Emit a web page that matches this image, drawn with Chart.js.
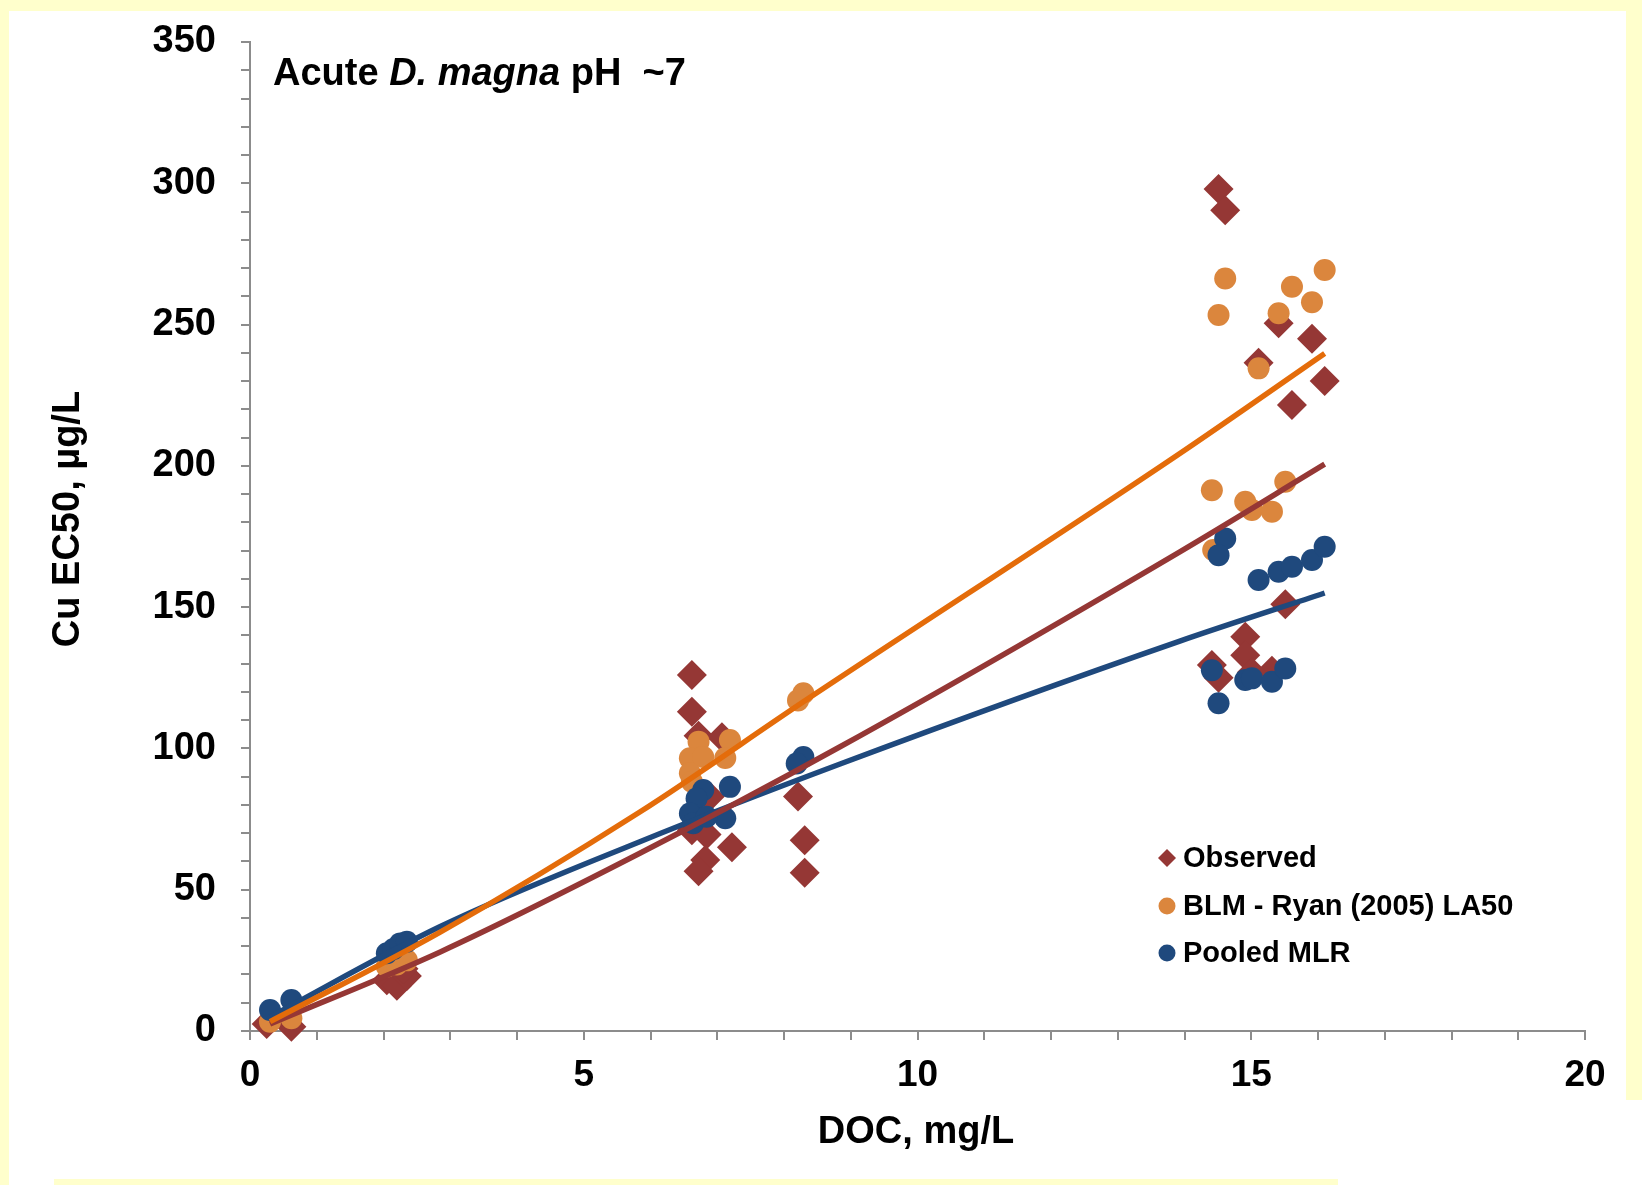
<!DOCTYPE html>
<html>
<head>
<meta charset="utf-8">
<script src="https://cdn.jsdelivr.net/npm/chart.js@4.4.0/dist/chart.umd.min.js"></script>
<style>
  html, body { margin: 0; padding: 0; background: #fff; }
  #wrap { width: 1642px; height: 1185px; position: relative; }
</style>
</head>
<body>
<div id="wrap"><canvas id="chart" width="1642" height="1185"></canvas></div>
<script>
// Observed (diamonds)
const obsX = [0.25, 0.62, 2.05, 2.2, 2.35, 2.3, 6.62, 6.62, 6.72, 7.07, 6.89, 6.62, 6.84, 7.22, 6.82, 6.72,
  8.21, 8.31, 8.31, 14.51, 14.61, 15.41, 15.91, 15.11, 16.1, 15.61, 15.51, 14.91, 14.91, 14.41, 14.51, 15.31, 15.01];
const obsY = [2.5, 1.5, 18, 16, 19.5, 22, 126, 113, 104.5, 104, 83, 71, 69.5, 65, 60.5, 56.5,
  83, 67.5, 56, 298, 290.5, 250.5, 245, 236.5, 230, 221.5, 151, 139.5, 133, 129.5, 125, 127.5, 127];

// BLM - Ryan (2005) LA50
const blmX = [0.3, 0.62, 2.05, 2.2, 2.35, 6.72, 7.19, 6.59, 6.79, 7.12, 6.59, 6.62, 8.29, 8.21,
  14.61, 14.51, 16.1, 15.61, 15.91, 15.41, 15.11, 14.41, 14.91, 15.01, 15.31, 15.51, 14.43];
const blmY = [3.3, 4.5, 22.8, 23.5, 25, 102.4, 103, 96.5, 97, 96.6, 91.2, 88.2, 119.5, 117,
  266.3, 253.4, 269.3, 263.4, 257.9, 254, 234.5, 191.4, 187.3, 184.4, 183.8, 194.4, 170.2];

// Pooled MLR
const mlrX = [0.3, 0.62, 2.05, 2.15, 2.25, 2.35, 6.79, 7.19, 6.69, 6.59, 6.64, 7.12, 6.84, 8.29, 8.19,
  14.61, 14.51, 15.11, 15.41, 15.61, 15.91, 16.1, 14.41, 14.51, 14.91, 15.01, 15.31, 15.51];
const mlrY = [7.4, 11, 27.5, 29, 31, 31.6, 85.3, 86.4, 82.3, 77, 73.5, 75.3, 75.8, 97, 94.7,
  174.3, 168.4, 159.6, 162.5, 164.3, 166.7, 171.4, 127.7, 116, 124.2, 124.8, 123.6, 128.3];

// trend lines
const obsFitX = [0.3, 2.85, 5.84, 8.84, 13.93, 16.1];
const obsFitY = [2.5, 28, 62.9, 100.6, 169.6, 200.6];
const blmFitX = [0.3, 2.85, 5.84, 8.29, 13.93, 16.1];
const blmFitY = [3.3, 35, 77.5, 116.5, 204.4, 239.8];
const mlrFitX = [0.3, 2.85, 5.84, 8.84, 13.93, 16.1];
const mlrFitY = [5, 37, 67, 94.5, 138, 155];

const legendLabels = ["Observed", "BLM - Ryan (2005) LA50", "Pooled MLR"];

const RED = "#953735";
const ORANGE = "#DB863D";
const BLUE = "#1F497D";
const FONT = "'Liberation Sans', Arial, sans-serif";
const AXIS = "#8c8c8c";

const pts = (xs, ys) => xs.map((x, i) => ({ x: x, y: ys[i] }));

function fitLine(xs, ys, color) {
  return {
    type: "line",
    data: pts(xs, ys),
    borderColor: color,
    borderWidth: 5.5,
    pointRadius: 0,
    showLine: true,
    fill: false,
    cubicInterpolationMode: "monotone",
    clip: false,
  };
}

const decor = {
  id: "decor",
  beforeDraw(chart) {
    const ctx = chart.ctx;
    ctx.save();
    ctx.fillStyle = "#FFFFCC";
    ctx.fillRect(0, 0, 1642, 11);
    ctx.fillRect(0, 0, 9, 1185);
    ctx.fillRect(1626, 0, 16, 1100);
    ctx.fillRect(54, 1179, 1284, 6);
    ctx.restore();
  },
  afterDraw(chart) {
    const ctx = chart.ctx;
    ctx.save();
    ctx.fillStyle = "#000";
    ctx.textBaseline = "alphabetic";

    // chart title
    let x = 273;
    const y = 85;
    const parts = [["Acute ", "bold"], ["D. magna", "italic bold"], [" pH  ~7", "bold"]];
    parts.forEach(([t, w]) => {
      ctx.font = w + " 38px " + FONT;
      ctx.fillText(t, x, y);
      x += ctx.measureText(t).width;
    });

    // axis titles
    ctx.font = "bold 38px " + FONT;
    ctx.textAlign = "center";
    ctx.fillText("DOC, mg/L", 916, 1143);
    ctx.save();
    ctx.translate(79, 519);
    ctx.rotate(-Math.PI / 2);
    ctx.fillText("Cu EC50, µg/L", 0, 0);
    ctx.restore();

    // legend
    const rows = [858, 906, 953];
    ctx.textAlign = "left";
    ctx.textBaseline = "middle";
    ctx.font = "bold 29px " + FONT;
    rows.forEach((ry, i) => {
      const mx = 1167;
      if (i === 0) {
        ctx.fillStyle = RED;
        ctx.beginPath();
        ctx.moveTo(mx - 9, ry);
        ctx.lineTo(mx, ry - 9);
        ctx.lineTo(mx + 9, ry);
        ctx.lineTo(mx, ry + 9);
        ctx.closePath();
        ctx.fill();
      } else {
        ctx.fillStyle = i === 1 ? ORANGE : BLUE;
        ctx.beginPath();
        ctx.arc(mx, ry, 8.5, 0, Math.PI * 2);
        ctx.fill();
      }
      ctx.fillStyle = "#000";
      ctx.fillText(legendLabels[i], 1183, ry + 1);
    });
    ctx.restore();
  },
};

new Chart(document.getElementById("chart"), {
  type: "scatter",
  data: {
    datasets: [
      fitLine(blmFitX, blmFitY, "#E46C0A"),
      fitLine(obsFitX, obsFitY, RED),
      fitLine(mlrFitX, mlrFitY, BLUE),
      {
        label: legendLabels[2],
        data: pts(mlrX, mlrY),
        backgroundColor: BLUE,
        borderWidth: 0,
        pointRadius: 11,
        pointHoverRadius: 11,
        clip: false,
      },
      {
        label: legendLabels[1],
        data: pts(blmX, blmY),
        backgroundColor: ORANGE,
        borderWidth: 0,
        pointRadius: 11,
        pointHoverRadius: 11,
        clip: false,
      },
      {
        label: legendLabels[0],
        data: pts(obsX, obsY),
        backgroundColor: RED,
        borderWidth: 0,
        pointStyle: "rectRot",
        pointRadius: 15,
        pointHoverRadius: 15,
        clip: false,
      },
    ],
  },
  options: {
    responsive: false,
    animation: false,
    devicePixelRatio: 1,
    layout: { padding: { top: 42, right: 57, left: 0, bottom: 0 } },
    plugins: { legend: { display: false }, tooltip: { enabled: false }, title: { display: false } },
    scales: {
      x: {
        type: "linear",
        min: 0,
        max: 20,
        ticks: {
          stepSize: 1,
          autoSkip: false,
          maxRotation: 0,
          padding: 14,
          color: "#000",
          font: { family: FONT, size: 37, weight: "bold" },
          callback: (v) => (v % 5 === 0 ? v : ""),
        },
        grid: { drawOnChartArea: false, drawTicks: true, tickLength: 9, color: AXIS, lineWidth: 2 },
        border: { color: AXIS, width: 2 },
        afterFit: (s) => {
          s.height = 154;
          s.paddingLeft = 0;
          s.paddingRight = 0;
        },
      },
      y: {
        min: 0,
        max: 350,
        ticks: {
          stepSize: 10,
          autoSkip: false,
          padding: 25,
          color: "#000",
          font: { family: FONT, size: 38, weight: "bold" },
          callback: (v) => (v % 50 === 0 ? v : ""),
        },
        grid: { drawOnChartArea: false, drawTicks: true, tickLength: 9, color: AXIS, lineWidth: 2 },
        border: { color: AXIS, width: 2 },
        afterFit: (s) => {
          s.width = 250;
          s.paddingTop = 0;
          s.paddingBottom = 0;
        },
      },
    },
  },
  plugins: [decor],
});
</script>
</body>
</html>
